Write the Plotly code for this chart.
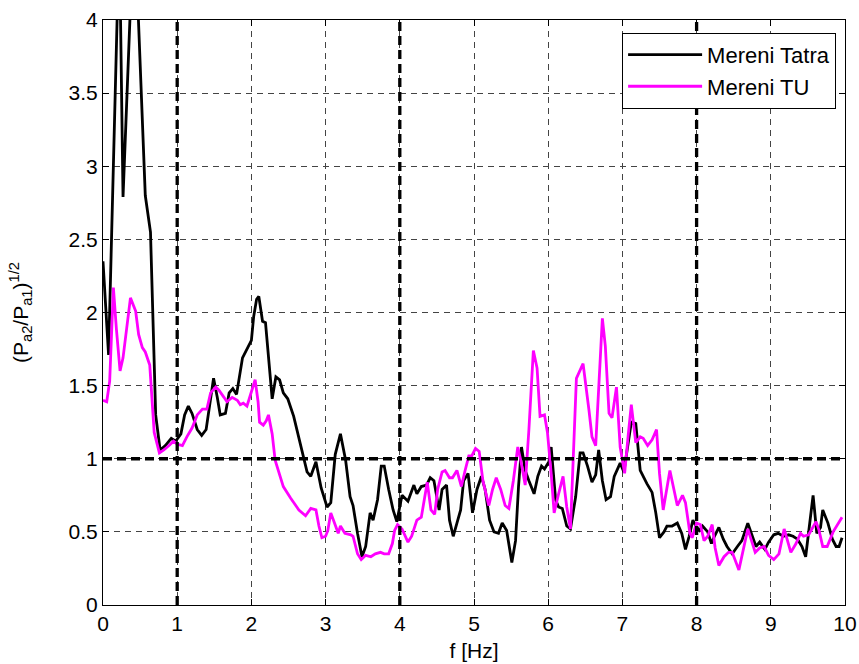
import plotly.graph_objects as go

# ---- data ----
tatra_f = [0.00, 0.075, 0.22, 0.27, 0.42, 0.57, 0.64, 0.71, 0.77, 0.84, 0.92, 0.98,
           1.05, 1.10, 1.15, 1.20, 1.27, 1.33, 1.39, 1.49, 1.54, 1.58, 1.65, 1.70,
           1.75, 1.80, 1.88, 1.95, 2.00, 2.03, 2.07, 2.10, 2.15, 2.19, 2.28, 2.33,
           2.38, 2.43, 2.49, 2.57, 2.66, 2.75, 2.80, 2.87, 2.94, 3.02, 3.07, 3.13,
           3.20, 3.27, 3.33, 3.37, 3.43, 3.49, 3.54, 3.60, 3.64, 3.70, 3.75, 3.79,
           3.85, 3.91, 3.96, 4.03, 4.11, 4.19, 4.23, 4.29, 4.36, 4.41, 4.46, 4.53,
           4.57, 4.63, 4.67, 4.72, 4.77, 4.82, 4.86, 4.92, 4.98, 5.04, 5.10, 5.15,
           5.21, 5.27, 5.33, 5.38, 5.44, 5.51, 5.56, 5.60, 5.64, 5.69, 5.74, 5.81,
           5.86, 5.91, 5.95, 6.01, 6.04, 6.10, 6.14, 6.19, 6.25, 6.30, 6.37, 6.43,
           6.47, 6.53, 6.59, 6.64, 6.68, 6.73, 6.78, 6.84, 6.89, 6.97, 7.02, 7.07,
           7.12, 7.18, 7.24, 7.33, 7.40, 7.45, 7.50, 7.56, 7.60, 7.67, 7.74, 7.80,
           7.85, 7.90, 7.95, 7.99, 8.04, 8.08, 8.15, 8.20, 8.24, 8.30, 8.36, 8.41,
           8.48, 8.55, 8.61, 8.69, 8.74, 8.80, 8.85, 8.92, 8.97, 9.04, 9.10, 9.17,
           9.24, 9.30, 9.36, 9.42, 9.47, 9.51, 9.57, 9.62, 9.67, 9.70, 9.77, 9.83,
           9.88, 9.92, 9.96]
tatra_v = [2.35, 1.71, 4.60, 2.79, 4.75, 2.80, 2.55, 1.30, 1.06, 1.09, 1.14, 1.12,
           1.17, 1.30, 1.36, 1.31, 1.20, 1.16, 1.20, 1.55, 1.42, 1.30, 1.31, 1.45,
           1.48, 1.44, 1.69, 1.76, 1.81, 1.97, 2.09, 2.11, 1.94, 1.93, 1.41, 1.56,
           1.54, 1.45, 1.41, 1.29, 1.09, 0.91, 0.88, 0.98, 0.80, 0.67, 0.70, 1.03,
           1.17, 0.99, 0.74, 0.68, 0.49, 0.33, 0.40, 0.63, 0.58, 0.72, 0.95, 0.95,
           0.79, 0.65, 0.57, 0.75, 0.71, 0.82, 0.76, 0.81, 0.82, 0.87, 0.85, 0.65,
           0.79, 0.82, 0.58, 0.47, 0.56, 0.65, 0.85, 0.90, 0.63, 0.79, 0.88, 0.79,
           0.58, 0.50, 0.49, 0.56, 0.51, 0.29, 0.44, 0.81, 1.08, 0.92, 0.85, 0.76,
           0.88, 0.95, 0.93, 0.98, 1.08, 0.72, 0.67, 0.66, 0.54, 0.52, 0.74, 1.04,
           1.04, 0.95, 0.84, 0.89, 1.06, 0.85, 0.72, 0.74, 0.88, 0.97, 0.91, 1.08,
           1.25, 1.24, 0.92, 0.83, 0.77, 0.63, 0.46, 0.50, 0.54, 0.54, 0.56, 0.49,
           0.38, 0.47, 0.58, 0.54, 0.51, 0.54, 0.50, 0.42, 0.47, 0.53, 0.45, 0.40,
           0.35, 0.40, 0.44, 0.56, 0.49, 0.40, 0.43, 0.38, 0.43, 0.48, 0.49, 0.47,
           0.48, 0.47, 0.45, 0.40, 0.33, 0.49, 0.75, 0.49, 0.53, 0.65, 0.56, 0.45,
           0.40, 0.40, 0.46]

tu_f = [0.00, 0.05, 0.09, 0.14, 0.18, 0.23, 0.27, 0.33, 0.37, 0.44, 0.48, 0.53,
        0.57, 0.63, 0.69, 0.76, 0.82, 0.89, 0.95, 1.00, 1.07, 1.13, 1.20, 1.27,
        1.34, 1.40, 1.45, 1.52, 1.56, 1.63, 1.67, 1.74, 1.81, 1.85, 1.89, 1.94,
        1.99, 2.05, 2.09, 2.11, 2.16, 2.20, 2.23, 2.28, 2.32, 2.37, 2.43, 2.53,
        2.64, 2.73, 2.80, 2.87, 2.91, 2.95, 3.00, 3.03, 3.07, 3.12, 3.17, 3.20,
        3.26, 3.34, 3.37, 3.43, 3.48, 3.54, 3.61, 3.67, 3.74, 3.79, 3.85, 3.90,
        3.93, 3.97, 4.03, 4.11, 4.16, 4.23, 4.29, 4.37, 4.42, 4.47, 4.51, 4.57,
        4.61, 4.67, 4.71, 4.77, 4.83, 4.88, 4.93, 4.97, 5.02, 5.07, 5.12, 5.20,
        5.25, 5.30, 5.36, 5.42, 5.47, 5.53, 5.59, 5.63, 5.69, 5.74, 5.80, 5.85,
        5.89, 5.95, 5.99, 6.04, 6.08, 6.14, 6.20, 6.25, 6.30, 6.38, 6.47, 6.55,
        6.59, 6.64, 6.73, 6.77, 6.82, 6.86, 6.92, 6.97, 7.03, 7.08, 7.12, 7.18,
        7.24, 7.28, 7.34, 7.40, 7.46, 7.50, 7.55, 7.64, 7.74, 7.81, 7.85, 7.91,
        7.94, 8.00, 8.05, 8.10, 8.15, 8.21, 8.25, 8.30, 8.37, 8.43, 8.48, 8.57,
        8.63, 8.69, 8.79, 8.85, 8.91, 8.97, 9.04, 9.11, 9.18, 9.27, 9.34, 9.40,
        9.44, 9.51, 9.61, 9.65, 9.70, 9.76, 9.84, 9.96]
tu_v = [1.40, 1.39, 1.53, 2.17, 1.89, 1.60, 1.69, 1.94, 2.10, 2.01, 1.85, 1.76,
        1.73, 1.64, 1.18, 1.04, 1.06, 1.09, 1.12, 1.10, 1.09, 1.15, 1.21, 1.30,
        1.34, 1.34, 1.45, 1.49, 1.47, 1.42, 1.39, 1.42, 1.40, 1.37, 1.38, 1.36,
        1.45, 1.54, 1.39, 1.25, 1.23, 1.26, 1.30, 1.17, 0.99, 0.90, 0.81, 0.73,
        0.65, 0.61, 0.66, 0.65, 0.54, 0.46, 0.47, 0.51, 0.63, 0.56, 0.49, 0.54,
        0.49, 0.48, 0.47, 0.35, 0.31, 0.34, 0.33, 0.35, 0.36, 0.35, 0.35, 0.42,
        0.51, 0.55, 0.52, 0.43, 0.47, 0.58, 0.60, 0.84, 0.65, 0.62, 0.79, 0.91,
        0.92, 0.87, 0.87, 0.92, 0.81, 0.92, 1.02, 1.02, 1.07, 1.05, 0.85, 0.68,
        0.79, 0.87, 0.79, 0.68, 0.66, 0.85, 1.08, 0.99, 0.82, 1.20, 1.74, 1.62,
        1.29, 1.30, 1.18, 0.90, 0.63, 0.76, 0.88, 0.67, 0.52, 1.55, 1.65, 1.33,
        1.15, 1.09, 1.96, 1.77, 1.31, 1.28, 1.49, 1.08, 0.90, 1.17, 1.37, 1.11,
        1.15, 1.14, 1.09, 1.13, 1.20, 0.90, 0.65, 0.92, 0.68, 0.75, 0.70, 0.49,
        0.46, 0.56, 0.55, 0.44, 0.47, 0.55, 0.39, 0.27, 0.33, 0.36, 0.36, 0.24,
        0.38, 0.52, 0.36, 0.39, 0.40, 0.34, 0.31, 0.35, 0.52, 0.36, 0.42, 0.49,
        0.47, 0.48, 0.57, 0.51, 0.40, 0.40, 0.50, 0.60]

x_ticks = [0, 1, 2, 3, 4, 5, 6, 7, 8, 9, 10]
y_ticks = [0, 0.5, 1, 1.5, 2, 2.5, 3, 3.5, 4]
y_tick_labels = ["0", "0.5", "1", "1.5", "2", "2.5", "3", "3.5", "4"]
ref_x = [1, 4, 8]
ref_y = [1]

FONT = "Liberation Sans, Arial, Helvetica, sans-serif"
FS = 21

fig = go.Figure()
fig.add_trace(go.Scatter(x=tatra_f, y=tatra_v, mode="lines", name="Mereni Tatra",
                         line=dict(color="black", width=2.8)))
fig.add_trace(go.Scatter(x=tu_f, y=tu_v, mode="lines", name="Mereni TU",
                         line=dict(color="#ff00ff", width=2.8)))

for xv in ref_x:
    fig.add_shape(type="line", xref="x", yref="paper", x0=xv, x1=xv, y0=0, y1=1,
                  line=dict(color="black", width=3.3, dash="9px,5px"), layer="above")
for yv in ref_y:
    fig.add_shape(type="line", xref="paper", yref="y", x0=0, x1=1, y0=yv, y1=yv,
                  line=dict(color="black", width=3.3, dash="9px,5px"), layer="above")

axis_common = dict(
    showline=True, linecolor="black", linewidth=1, mirror="ticks",
    ticks="inside", ticklen=6, tickcolor="black", automargin=False,
    showgrid=True, gridcolor="#444444", gridwidth=1, griddash="6px,5px",
    zeroline=False, tickfont=dict(family=FONT, size=FS, color="black"),
)

fig.update_xaxes(range=[0, 10], tickvals=x_ticks, **axis_common,
                 title=dict(text="f [Hz]", font=dict(family=FONT, size=FS, color="black"),
                            standoff=9))
fig.update_yaxes(range=[0, 4], tickvals=y_ticks, ticktext=y_tick_labels, **axis_common,
                 title=dict(text="(P<sub>a2</sub>/P<sub>a1</sub>)<sup>1/2</sup>",
                            font=dict(family=FONT, size=FS, color="black"), standoff=34))

fig.update_layout(
    width=859, height=664,
    margin=dict(l=103, r=14, t=20, b=59),
    paper_bgcolor="white", plot_bgcolor="white",
    font=dict(family=FONT, size=FS, color="black"),
    legend=dict(x=0.988, y=0.978, xanchor="right", yanchor="top",
                bgcolor="white", bordercolor="black", borderwidth=1,
                font=dict(family=FONT, size=22, color="black"),
                itemwidth=74),
    showlegend=True,
)

fig.write_html("out.html", config={"displayModeBar": False},
               post_script="document.body.style.margin='0px';document.body.style.padding='0px';")
